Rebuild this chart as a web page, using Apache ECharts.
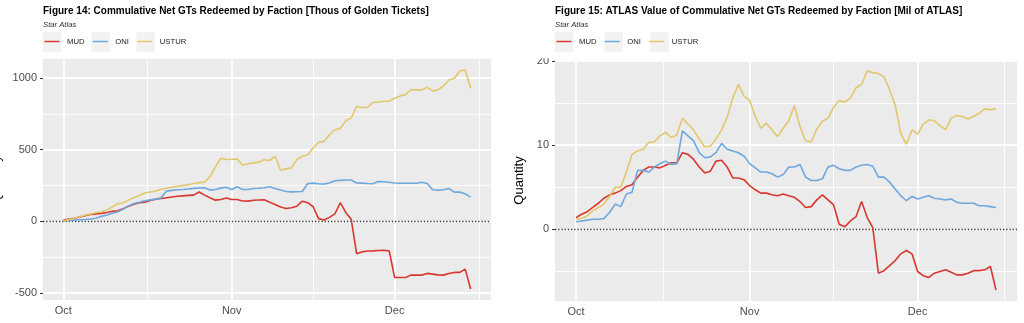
<!DOCTYPE html>
<html>
<head>
<meta charset="utf-8">
<script src="https://cdn.jsdelivr.net/npm/echarts@6/dist/echarts.min.js"></script>
<style>
  html, body { margin: 0; padding: 0; background: #ffffff; }
  #chart { width: 1024px; height: 323px; }
</style>
</head>
<body>
<div id="chart"></div>
<script>
// Daily cumulative net Golden Tickets redeemed per faction, Oct 1 – Dec 15.
const factions = ['MUD', 'ONI', 'USTUR'];
const factionColors = ['#D7382F', '#6FA8DC', '#E3C76C'];
const monthNames = ['Jan', 'Feb', 'Mar', 'Apr', 'May', 'Jun', 'Jul', 'Aug', 'Sep', 'Oct', 'Nov', 'Dec'];

// Figure 14: thousands of Golden Tickets
const gtMUD = [8, 17, 22, 30, 40, 48, 52, 56, 62, 70,
  74, 88, 105, 120, 130, 133, 145, 155, 160, 165,
  170, 175, 178, 181, 183, 205, 183, 165, 148, 153,
  163, 153, 152, 142, 141, 147, 149, 150, 134, 118,
  100, 90, 95, 106, 141, 130, 102, 19, 10, 28,
  52, 130, 62, 15, -225, -213, -207, -206, -203, -201,
  -206, -391, -391, -391, -375, -375, -375, -363, -368, -373,
  -375, -363, -356, -356, -333, -472];
const gtONI = [4, 6, 9, 11, 13, 17, 22, 35, 44, 56,
  66, 85, 108, 124, 134, 144, 150, 155, 164, 211,
  216, 220, 222, 226, 230, 233, 234, 218, 222, 232,
  238, 222, 241, 222, 222, 229, 231, 234, 241, 229,
  219, 208, 206, 207, 208, 264, 267, 262, 260, 268,
  283, 286, 288, 289, 268, 267, 264, 262, 278, 276,
  273, 268, 266, 266, 266, 266, 273, 264, 220, 218,
  220, 229, 204, 204, 192, 169];
const gtUSTUR = [3, 12, 23, 32, 42, 52, 60, 67, 80, 100,
  124, 128, 148, 166, 180, 198, 205, 212, 224, 231,
  238, 244, 250, 256, 264, 270, 274, 312, 380, 440,
  431, 433, 436, 391, 402, 408, 413, 430, 425, 454,
  357, 366, 373, 431, 452, 465, 512, 551, 558, 604,
  639, 650, 701, 720, 801, 794, 796, 829, 833, 838,
  838, 859, 875, 884, 917, 917, 917, 935, 910, 917,
  945, 986, 998, 1049, 1056, 928];

// Figure 15: millions of ATLAS
const atlasMUD = [1.4, 1.8, 2.1, 2.6, 3.1, 3.7, 4.1, 4.3, 4.6, 5.1,
  5.3, 6.2, 7.0, 7.4, 7.4, 7.3, 7.6, 7.9, 7.9, 9.1,
  8.9, 8.3, 7.4, 6.7, 6.9, 8.1, 8.2, 7.4, 6.1, 6.1,
  5.9, 5.2, 4.7, 4.3, 4.3, 4.1, 4.0, 4.2, 4.0, 3.8,
  3.3, 2.6, 2.7, 3.5, 4.1, 3.5, 2.9, 0.6, 0.3, 1.0,
  1.5, 3.3, 1.4, 0.2, -5.2, -4.9, -4.3, -3.7, -2.9, -2.5,
  -2.9, -5.0, -5.5, -5.7, -5.2, -5.0, -4.8, -5.1, -5.4, -5.4,
  -5.2, -4.9, -4.9, -4.8, -4.4, -7.2];
const atlasONI = [0.9, 1.0, 1.1, 1.2, 1.2, 1.3, 2.0, 3.0, 2.7, 4.2,
  4.4, 7.0, 7.0, 6.8, 7.4, 7.8, 8.1, 7.7, 7.8, 11.7,
  11.1, 10.5, 9.1, 8.5, 8.6, 9.1, 10.2, 9.5, 9.3, 9.1,
  8.7, 7.8, 7.3, 6.8, 6.8, 6.6, 6.2, 6.5, 7.4, 7.4,
  7.7, 6.2, 5.8, 5.8, 6.0, 7.4, 7.6, 7.2, 7.0, 7.0,
  7.4, 7.6, 7.7, 7.5, 6.2, 6.2, 5.6, 4.8, 4.0, 3.4,
  3.9, 3.6, 3.8, 4.0, 3.7, 3.6, 3.5, 3.6, 3.2, 3.1,
  3.1, 3.1, 2.8, 2.8, 2.7, 2.6];
const atlasUSTUR = [1.2, 1.3, 1.6, 2.2, 2.6, 3.0, 3.9, 5.0, 5.0, 6.8,
  8.9, 9.3, 9.5, 10.3, 10.4, 11.1, 11.5, 10.9, 11.2, 13.2,
  12.5, 11.8, 10.7, 9.8, 9.9, 10.7, 11.8, 13.3, 15.6, 17.2,
  15.8, 15.3, 13.4, 12.0, 12.6, 11.8, 11.0, 12.0, 12.9, 14.7,
  12.2, 10.5, 10.4, 11.9, 12.8, 13.2, 14.5, 15.3, 15.1, 15.6,
  16.8, 17.2, 18.8, 18.6, 18.5, 18.1, 16.6, 14.7, 11.4, 10.1,
  11.8, 11.3, 12.5, 13.0, 12.9, 12.3, 11.8, 13.2, 13.5, 13.4,
  13.1, 13.4, 13.8, 14.3, 14.2, 14.3];

// Axis breaks
const monthBreaks = [[2022, 9, 1], [2022, 10, 1], [2022, 11, 1]];
const monthMinorBreaks = [[2022, 9, 16, 12], [2022, 10, 16, 0], [2022, 11, 16, 12]];
const gtBreaks = [-500, 0, 500, 1000];
const gtMinorBreaks = [-250, 250, 750];
const atlasBreaks = [0, 10, 20];
const atlasMinorBreaks = [-5, 5, 15];

const FONT = "'Liberation Sans', Arial, Helvetica, sans-serif";
const stamp = (p) => new Date(p[0], p[1], p[2], p[3] || 0).getTime();
const dates = gtMUD.map((_, i) => new Date(2022, 9, 1 + i).getTime());
const majorDates = monthBreaks.map(stamp);
const minorDates = monthMinorBreaks.map(stamp);

// ggplot-style 5% expansion of the data range
function expand(lo, hi) { const p = (hi - lo) * 0.05; return [lo - p, hi + p]; }
const xRange = expand(dates[0], dates[dates.length - 1]);
const gtRange = expand(Math.min(...gtMUD, ...gtONI, ...gtUSTUR), Math.max(...gtMUD, ...gtONI, ...gtUSTUR));
const atlasRange = expand(Math.min(...atlasMUD, ...atlasONI, ...atlasUSTUR), Math.max(...atlasMUD, ...atlasONI, ...atlasUSTUR));

const grids = [
  { left: 43, top: 59, width: 448, height: 241 },
  { left: 555, top: 60, width: 462, height: 241 }
];

// Dates are carried as millisecond timestamps on a numeric axis
function xAxisFor(i) {
  return {
    type: 'value', gridIndex: i, min: xRange[0], max: xRange[1], scale: true,
    axisLine: { show: false },
    axisTick: { show: true, customValues: majorDates, length: 3, lineStyle: { color: '#333333', width: 1 } },
    axisLabel: { customValues: majorDates, formatter: (v) => monthNames[new Date(v).getMonth()],
      color: '#4D4D4D', fontSize: 11, margin: 5, fontFamily: FONT },
    splitLine: { show: false }
  };
}
function yAxisFor(i, range, breaks, gap) {
  return {
    type: 'value', gridIndex: i, min: range[0], max: range[1],
    axisLine: { show: false },
    axisTick: { show: true, customValues: breaks, length: 3, lineStyle: { color: '#333333', width: 1 } },
    axisLabel: { customValues: breaks, formatter: (v) => String(v),
      color: '#4D4D4D', fontSize: 11, margin: 6, fontFamily: FONT },
    splitLine: { show: false },
    name: 'Quantity', nameLocation: 'middle', nameGap: gap,
    nameTextStyle: { color: '#000000', fontSize: 13, fontFamily: FONT }
  };
}

// Panel grid lines plus the dotted zero reference
function panelLines(i, majorY, minorY) {
  const major = { color: '#FFFFFF', width: 1.8, type: 'solid' };
  const minor = { color: '#FFFFFF', width: 0.9, type: 'solid' };
  const items = [];
  minorY.forEach(v => items.push({ yAxis: v, lineStyle: minor }));
  minorDates.forEach(v => items.push({ xAxis: v, lineStyle: minor }));
  majorY.forEach(v => items.push({ yAxis: v, lineStyle: major }));
  majorDates.forEach(v => items.push({ xAxis: v, lineStyle: major }));
  items.push({ yAxis: 0, lineStyle: { color: '#333333', width: 1.3, type: [1.3, 1.9] } });
  return {
    type: 'line', xAxisIndex: i, yAxisIndex: i, data: [], silent: true, animation: false,
    markLine: { silent: true, animation: false, symbol: ['none', 'none'], label: { show: false },
      emphasis: { disabled: true }, data: items }
  };
}

function factionSeries(i, arrays) {
  return arrays.map((arr, k) => ({
    type: 'line', name: factions[k], xAxisIndex: i, yAxisIndex: i,
    data: arr.map((v, d) => [dates[d], v]),
    showSymbol: false, symbol: 'none', z: 10, animation: false,
    lineStyle: { width: 1.6, color: factionColors[k] },
    itemStyle: { color: factionColors[k] }
  }));
}

const titles = [
  { text: 'Figure 14: Commulative Net GTs Redeemed by Faction [Thous of Golden Tickets]', left: 43 },
  { text: 'Figure 15: ATLAS Value of Commulative Net GTs Redeemed by Faction [Mil of ATLAS]', left: 555 }
];

const legendBoxes = [[42.7, 91.3, 136.3], [554.7, 604.3, 650.3]];

const graphic = [];
legendBoxes.forEach(row => row.forEach(x => graphic.push({
  type: 'rect', left: x, top: 32.3, z: -1, silent: true,
  shape: { width: 18.6, height: 19.4 }, style: { fill: '#F2F2F2' }
})));
// plot-region top edge masks the upper half of the top tick label on the right panel
graphic.push({ type: 'rect', left: 530, top: 0, z: 100, silent: true,
  shape: { width: 24, height: 58.3 }, style: { fill: '#FFFFFF' } });

const legendCommon = {
  data: factions, top: 37.5, padding: 0, itemGap: 6.8, itemWidth: 19, itemHeight: 1.5,
  icon: 'path://M0,0M19,1.5M1.5,0h15v1.5h-15z', selectedMode: false,
  textStyle: { fontSize: 7.7, color: '#1A1A1A', fontFamily: FONT }
};

const option = {
  backgroundColor: '#FFFFFF',
  animation: false,
  title: [
    ...titles.map(t => ({ text: t.text, left: t.left, top: 6, padding: 0,
      textStyle: { fontSize: 10, fontWeight: 'bold', color: '#000000', fontFamily: FONT } })),
    ...titles.map(t => ({ text: 'Star Atlas', left: t.left, top: 20.5, padding: 0,
      textStyle: { fontSize: 7.7, fontStyle: 'italic', fontWeight: 'normal', color: '#333333', fontFamily: FONT } }))
  ],
  legend: [
    Object.assign({ left: 43 }, legendCommon),
    Object.assign({ left: 555 }, legendCommon)
  ],
  grid: grids.map(g => Object.assign({ show: true, backgroundColor: '#EBEBEB', borderWidth: 0,
    containLabel: false, outerBoundsMode: 'none' }, g)),
  xAxis: [xAxisFor(0), xAxisFor(1)],
  yAxis: [yAxisFor(0, gtRange, gtBreaks, 40), yAxisFor(1, atlasRange, atlasBreaks, 29)],
  series: [
    panelLines(0, gtBreaks, gtMinorBreaks),
    panelLines(1, atlasBreaks, atlasMinorBreaks),
    ...factionSeries(0, [gtMUD, gtONI, gtUSTUR]),
    ...factionSeries(1, [atlasMUD, atlasONI, atlasUSTUR])
  ],
  graphic: graphic
};

const chart = echarts.init(document.getElementById('chart'), null, { renderer: 'canvas' });
chart.setOption(option);
</script>
</body>
</html>
